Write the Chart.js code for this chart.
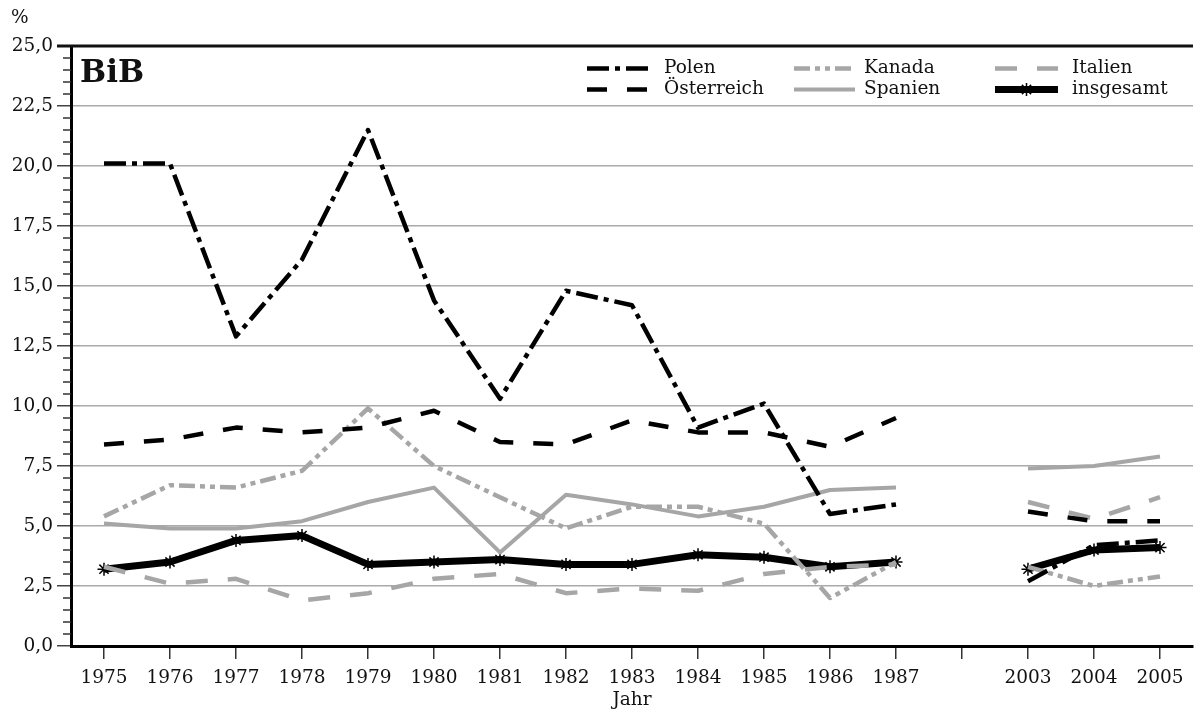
<!DOCTYPE html>
<html>
<head>
<meta charset="utf-8">
<script src="https://cdn.jsdelivr.net/npm/chart.js@4.4.1/dist/chart.umd.min.js"></script>
<style>
  html, body { margin: 0; padding: 0; background: #fff; }
  #wrap { width: 1201px; height: 713px; }
</style>
</head>
<body>
<div id="wrap"><canvas id="chart" width="1201" height="713"></canvas></div>
<script>
// Jahre (eine leere Kategorie als Lücke zwischen 1987 und 2003)
const years = ['1975', '1976', '1977', '1978', '1979', '1980', '1981', '1982', '1983',
               '1984', '1985', '1986', '1987', '', '2003', '2004', '2005'];

const polen       = [20.1, 20.1, 12.9, 16.1, 21.5, 14.4, 10.3, 14.8, 14.2, 9.1, 10.1, 5.5, 5.9, null, 2.7, 4.2, 4.4];
const oesterreich = [8.4, 8.6, 9.1, 8.9, 9.1, 9.8, 8.5, 8.4, 9.4, 8.9, 8.9, 8.3, 9.5, null, 5.6, 5.2, 5.2];
const kanada      = [5.4, 6.7, 6.6, 7.3, 9.9, 7.5, 6.2, 4.9, 5.8, 5.8, 5.1, 2.0, 3.5, null, 3.3, 2.5, 2.9];
const spanien     = [5.1, 4.9, 4.9, 5.2, 6.0, 6.6, 3.9, 6.3, 5.9, 5.4, 5.8, 6.5, 6.6, null, 7.4, 7.5, 7.9];
const italien     = [3.3, 2.6, 2.8, 1.9, 2.2, 2.8, 3.0, 2.2, 2.4, 2.3, 3.0, 3.3, 3.4, null, 6.0, 5.3, 6.2];
const insgesamt   = [3.2, 3.5, 4.4, 4.6, 3.4, 3.5, 3.6, 3.4, 3.4, 3.8, 3.7, 3.3, 3.5, null, 3.2, 4.0, 4.1];

const yTickLabels = ['0,0', '2,5', '5,0', '7,5', '10,0', '12,5', '15,0', '17,5', '20,0', '22,5', '25,0'];

const FONT = '"DejaVu Serif", serif';
const FSIZE = 18.5;
const GREY = '#a6a6a6';

function line(ctx, x0, y0, x1, y1) {
    ctx.beginPath();
    ctx.moveTo(x0, y0);
    ctx.lineTo(x1, y1);
    ctx.stroke();
}

// Rahmen oben, kleine Striche an der y-Achse, BiB, %, Legende
const extras = {
    id: 'extras',
    afterDraw(chart) {
        const ctx = chart.ctx;
        const a = chart.chartArea;
        const y = chart.scales.y;
        ctx.save();

        ctx.strokeStyle = '#333';
        ctx.lineWidth = 1.5;
        for (let i = 1; i < 50; i++) {
            if (i % 5 === 0) continue;
            const py = y.getPixelForValue(i * 0.5);
            line(ctx, a.left - 8, py, a.left, py);
        }

        ctx.strokeStyle = '#111';
        ctx.lineWidth = 3;
        line(ctx, a.left - 14, a.top, a.right, a.top);

        ctx.fillStyle = '#111';
        ctx.textBaseline = 'alphabetic';
        ctx.font = 'bold 31px ' + FONT;
        ctx.fillText('BiB', a.left + 9, 82);

        ctx.font = FSIZE + 'px ' + FONT;
        ctx.textBaseline = 'middle';
        ctx.fillText('%', 11, 18);

        // Legende: 3 Spalten x 2 Zeilen
        const cols = [[587, 648, 664], [794, 855, 864], [995, 1058, 1072]];
        const rows = [68.5, 89.5];
        const slots = { 'Polen': [0, 0], 'Österreich': [0, 1], 'Kanada': [1, 0],
                        'Spanien': [1, 1], 'Italien': [2, 0], 'insgesamt': [2, 1] };
        chart.data.datasets.forEach(ds => {
            const [c, r] = slots[ds.label];
            const [x0, x1, tx] = cols[c];
            const ly = rows[r];
            ctx.save();
            ctx.setLineDash(ds.borderDash || []);
            ctx.strokeStyle = ds.borderColor;
            ctx.lineWidth = ds.borderWidth;
            ctx.lineCap = 'butt';
            line(ctx, x0, ly, x1, ly);
            ctx.restore();
            if (ds.pointRadius > 0) {
                ctx.save();
                ctx.strokeStyle = ds.pointBorderColor;
                ctx.fillStyle = ds.pointBorderColor;
                ctx.lineWidth = ds.pointBorderWidth;
                Chart.helpers.drawPoint(ctx, { pointStyle: ds.pointStyle, radius: ds.pointRadius, rotation: 0, borderWidth: ds.pointBorderWidth }, (x0 + x1) / 2, ly);
                ctx.restore();
            }
            ctx.fillStyle = '#111';
            ctx.font = FSIZE + 'px ' + FONT;
            ctx.textBaseline = 'middle';
            ctx.fillText(ds.label, tx, ly);
        });

        ctx.restore();
    }
};

function series(label, data, color, width, dash) {
    return {
        label: label,
        data: data,
        borderColor: color,
        backgroundColor: color,
        borderWidth: width,
        borderDash: dash,
        borderCapStyle: 'butt',
        borderJoinStyle: 'round',
        pointRadius: 0,
        pointHoverRadius: 0,
        fill: false,
        tension: 0,
        spanGaps: false
    };
}

const total = series('insgesamt', insgesamt, '#000', 7, []);
total.pointStyle = 'star';
total.pointRadius = 6.5;
total.pointBorderColor = '#000';
total.pointBorderWidth = 1.5;

new Chart(document.getElementById('chart'), {
    type: 'line',
    data: {
        labels: years,
        datasets: [
            series('Polen', polen, '#000', 4.5, [22, 6, 5, 6]),
            series('Österreich', oesterreich, '#000', 4.5, [20, 20]),
            series('Kanada', kanada, GREY, 4.5, [16, 5, 5, 5, 5, 5]),
            series('Spanien', spanien, GREY, 4, []),
            series('Italien', italien, GREY, 4.5, [22, 20]),
            total
        ]
    },
    options: {
        responsive: false,
        animation: false,
        layout: { padding: { top: 46, left: 0, right: 0, bottom: 0 } },
        plugins: {
            legend: { display: false },
            tooltip: { enabled: false }
        },
        scales: {
            x: {
                offset: true,
                afterFit: scale => { scale.height = 67; },
                grid: {
                    offset: false,
                    drawOnChartArea: false,
                    drawTicks: true,
                    tickLength: 13,
                    color: '#333',
                    lineWidth: 1.5
                },
                border: { display: true, color: '#000', width: 3 },
                ticks: {
                    autoSkip: false,
                    maxRotation: 0,
                    color: '#111',
                    padding: 8,
                    font: { family: FONT, size: FSIZE }
                },
                title: {
                    display: true,
                    text: 'Jahr',
                    color: '#111',
                    padding: { top: 0, bottom: 2 },
                    font: { family: FONT, size: FSIZE }
                }
            },
            y: {
                min: 0,
                max: 25,
                afterFit: scale => { scale.width = 71; },
                grid: {
                    color: '#aaa',
                    lineWidth: 1.5,
                    tickLength: 14,
                    tickColor: '#444'
                },
                border: { display: true, color: '#000', width: 3 },
                ticks: {
                    stepSize: 2.5,
                    color: '#111',
                    padding: 4,
                    font: { family: FONT, size: FSIZE },
                    callback: (v, i) => yTickLabels[i]
                }
            }
        }
    },
    plugins: [extras]
});
</script>
</body>
</html>
